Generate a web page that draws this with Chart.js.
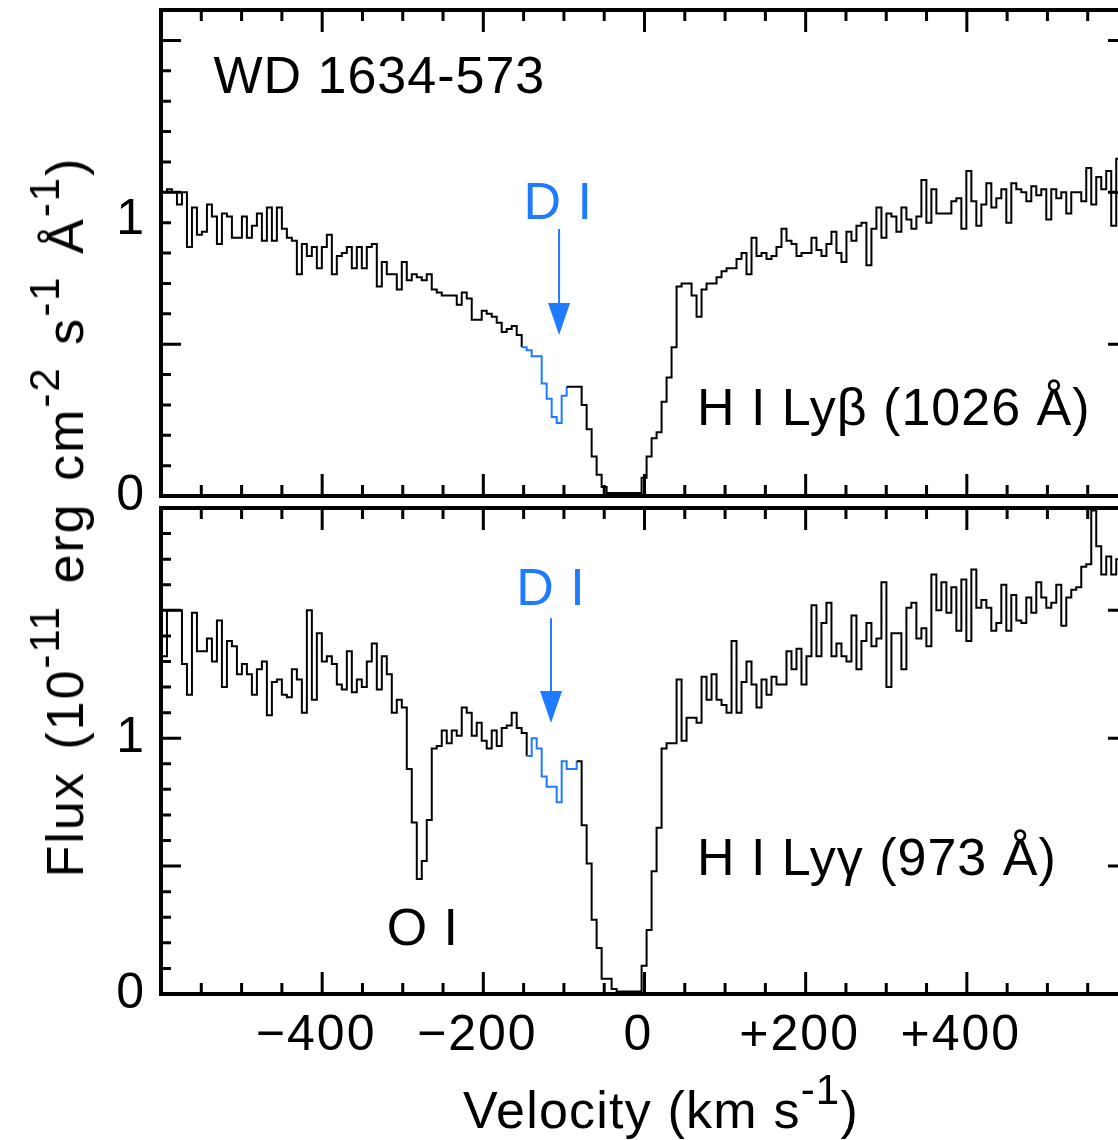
<!DOCTYPE html>
<html>
<head>
<meta charset="utf-8">
<script src="https://cdn.jsdelivr.net/npm/chart.js@4.4.1/dist/chart.umd.min.js"></script>
<style>
  html, body { margin: 0; padding: 0; background: #fff; overflow: hidden; }
  #wrap { position: relative; width: 1118px; height: 1140px; overflow: hidden; background: #fff; }
  canvas { position: absolute; left: 0; }
  #cTop { top: 0; z-index: 2; }
  #cBot { top: 500px; z-index: 1; }
  .lbl { position: absolute; font-family: "Liberation Sans", Arial, sans-serif; font-size: 52px;
         line-height: 52px; color: #000; white-space: nowrap; z-index: 3; }
  .lbl sup { font-size: 42px; vertical-align: baseline; position: relative; top: -24px; }
  #xTitle { left: 661px; top: 1084px; transform: translateX(-50%); letter-spacing: 1.2px; }
  #yTitle { left: 67px; top: 517px; transform: translate(-50%, -50%) rotate(-90deg);
            letter-spacing: 2px; word-spacing: 5px; }
</style>
</head>
<body>
<div id="wrap">
  <canvas id="cTop" width="1140" height="530" style="width:1140px;height:530px"></canvas>
  <canvas id="cBot" width="1140" height="640" style="width:1140px;height:640px"></canvas>
  <div class="lbl" id="yTitle">Flux (10<sup>-11</sup> erg cm<sup>-2</sup> s<sup>-1</sup> Å<sup>-1</sup>)</div>
  <div class="lbl" id="xTitle">Velocity (km s<sup>-1</sup>)</div>
</div>
<script>
// spectral bins: left edge of first bin and bin width, km/s
const V_START = -598.8;
const V_STEP = 6.2;

// H I Ly-beta (1026 A), flux in 1e-11 erg cm-2 s-1 A-1
const lybFlux = [
  1.00, 1.01, 1.00, 0.96, 1.00, 0.82, 0.95, 0.86, 0.87, 0.96,
  0.92, 0.83, 0.93, 0.92, 0.85, 0.85, 0.92, 0.85, 0.89, 0.93,
  0.84, 0.95, 0.84, 0.95, 0.88, 0.85, 0.84, 0.73, 0.83, 0.79,
  0.82, 0.75, 0.82, 0.86, 0.73, 0.79, 0.80, 0.82, 0.75, 0.82,
  0.75, 0.82, 0.83, 0.69, 0.77, 0.73, 0.73, 0.68, 0.77, 0.71,
  0.73, 0.72, 0.71, 0.73, 0.68, 0.67, 0.66, 0.66, 0.66, 0.63,
  0.67, 0.65, 0.58, 0.58, 0.61, 0.60, 0.59, 0.57, 0.54, 0.55,
  0.56, 0.53, 0.49, 0.48, 0.46, 0.46, 0.37, 0.32, 0.26, 0.24,
  0.33, 0.36, 0.36, 0.36, 0.30, 0.22, 0.13, 0.07, 0.03, 0.01,
  0.01, 0.01, 0.01, 0.01, 0.01, 0.01, 0.06, 0.13, 0.19, 0.21,
  0.31, 0.39, 0.49, 0.69, 0.70, 0.70, 0.66, 0.59, 0.68, 0.70,
  0.70, 0.72, 0.74, 0.75, 0.75, 0.78, 0.80, 0.73, 0.85, 0.79,
  0.80, 0.78, 0.79, 0.82, 0.88, 0.84, 0.83, 0.79, 0.80, 0.80,
  0.85, 0.81, 0.79, 0.83, 0.87, 0.80, 0.77, 0.87, 0.84, 0.89,
  0.90, 0.76, 0.88, 0.95, 0.85, 0.93, 0.92, 0.87, 0.95, 0.91,
  0.88, 0.92, 1.04, 0.90, 1.01, 0.93, 0.93, 0.93, 0.97, 0.98,
  0.88, 1.07, 0.97, 0.89, 0.96, 1.03, 0.95, 0.98, 1.01, 0.90,
  1.03, 1.01, 1.00, 0.97, 1.02, 0.99, 1.01, 0.91, 1.01, 0.98,
  1.00, 0.93, 1.00, 1.00, 0.97, 1.08, 0.96, 1.05, 1.01, 1.07,
  0.89, 1.11, 1.02
];

// H I Ly-gamma (973 A)
const lygFlux = [
  1.32, 1.50, 1.50, 1.50, 1.29, 1.17, 1.49, 1.34, 1.34, 1.39,
  1.30, 1.46, 1.20, 1.38, 1.36, 1.25, 1.29, 1.25, 1.17, 1.27,
  1.30, 1.09, 1.22, 1.23, 1.17, 1.16, 1.27, 1.23, 1.10, 1.50,
  1.15, 1.41, 1.30, 1.32, 1.29, 1.21, 1.19, 1.34, 1.18, 1.23,
  1.20, 1.30, 1.37, 1.19, 1.32, 1.25, 1.10, 1.15, 1.12, 0.88,
  0.67, 0.45, 0.52, 0.68, 0.96, 0.97, 1.03, 0.98, 1.03, 1.01,
  1.12, 1.10, 1.01, 1.06, 0.99, 0.96, 1.03, 0.97, 1.04, 1.05,
  1.10, 1.04, 1.02, 0.93, 1.00, 0.96, 0.85, 0.81, 0.81, 0.75,
  0.91, 0.88, 0.88, 0.91, 0.66, 0.51, 0.29, 0.18, 0.06, 0.06,
  0.02, 0.01, 0.01, 0.01, 0.01, 0.01, 0.11, 0.25, 0.48, 0.65,
  0.96, 0.98, 0.98, 1.23, 0.99, 1.08, 1.08, 1.06, 1.24, 1.15,
  1.25, 1.15, 1.13, 1.10, 1.38, 1.10, 1.22, 1.30, 1.21, 1.12,
  1.23, 1.17, 1.24, 1.21, 1.21, 1.34, 1.27, 1.35, 1.21, 1.32,
  1.52, 1.32, 1.45, 1.53, 1.32, 1.37, 1.32, 1.30, 1.48, 1.27,
  1.38, 1.45, 1.36, 1.39, 1.61, 1.20, 1.41, 1.41, 1.27, 1.51,
  1.53, 1.39, 1.43, 1.36, 1.64, 1.50, 1.61, 1.49, 1.59, 1.42,
  1.62, 1.38, 1.66, 1.51, 1.54, 1.51, 1.42, 1.45, 1.60, 1.42,
  1.56, 1.46, 1.45, 1.55, 1.49, 1.61, 1.55, 1.51, 1.53, 1.60,
  1.44, 1.55, 1.58, 1.59, 1.67, 1.68, 1.89, 1.75, 1.64, 1.71,
  1.64, 1.70, 1.68
];

// bins drawn in blue (D I absorption), first and last index
const lybDI = [72, 80];
const lygDI = [73, 82];

const xTickText = { "-400": "\u2212400", "-200": "\u2212200", "0": "0", "200": "+200", "400": "+400" };
const yTickText = { "0": "0", "1": "1" };

const BLACK = "#000000";
const BLUE = "#1E7BFF";
const FONT = '"Liberation Sans", Arial, sans-serif';

Chart.defaults.font.family = FONT;
Chart.defaults.color = BLACK;

function spectrum(flux, blue) {
  return {
    data: flux.map((f, i) => ({ x: V_START + i * V_STEP, y: f })),
    stepped: "before",
    borderColor: BLACK,
    borderWidth: 2,
    pointRadius: 0,
    fill: false,
    segment: {
      borderColor: c => (c.p0DataIndex >= blue[0] && c.p0DataIndex <= blue[1]) ? BLUE : BLACK
    }
  };
}

// no extra room for the end labels, chart area is set by hand
function noPad(s) {
  s.paddingTop = 0; s.paddingBottom = 0; s.paddingLeft = 0; s.paddingRight = 0;
}

// slightly wider glyph spacing, like the original bitmap font
const spacing = {
  id: "spacing",
  beforeDraw(chart) { chart.ctx.letterSpacing = "2px"; }
};

// frame + inward ticks on all four sides
const frameTicks = {
  id: "frameTicks",
  beforeDatasetsDraw(chart) {
    const { ctx, chartArea: a } = chart;
    const xs = chart.scales.x, ys = chart.scales.y;
    ctx.save();
    ctx.strokeStyle = BLACK;
    ctx.lineWidth = 3;
    ctx.beginPath();
    for (let v = -550; v <= 550; v += 50) {
      const px = xs.getPixelForValue(v);
      const len = v % 200 === 0 ? 22 : 11;
      ctx.moveTo(px, a.bottom); ctx.lineTo(px, a.bottom - len);
      ctx.moveTo(px, a.top); ctx.lineTo(px, a.top + len);
    }
    for (let k = 1; k / 10 < ys.max; k++) {
      const py = ys.getPixelForValue(k / 10);
      const len = k % 5 === 0 ? 20 : 10;
      ctx.moveTo(a.left, py); ctx.lineTo(a.left + len, py);
      ctx.moveTo(a.right, py); ctx.lineTo(a.right - len, py);
    }
    ctx.stroke();
    ctx.lineWidth = 4;
    ctx.strokeRect(a.left, a.top, a.right - a.left, a.bottom - a.top);
    ctx.restore();
  }
};

// labels and arrows placed in data coordinates
function notes(texts, arrows) {
  return {
    id: "notes",
    afterDatasetsDraw(chart) {
      const { ctx } = chart;
      const xs = chart.scales.x, ys = chart.scales.y;
      ctx.save();
      ctx.font = "52px " + FONT;
      ctx.letterSpacing = "1px";
      ctx.textBaseline = "alphabetic";
      texts.forEach(t => {
        ctx.fillStyle = t.color;
        ctx.textAlign = t.align;
        ctx.fillText(t.text, xs.getPixelForValue(t.x), ys.getPixelForValue(t.y));
      });
      arrows.forEach(ar => {
        const px = xs.getPixelForValue(ar.x);
        const y0 = ys.getPixelForValue(ar.from);
        const y1 = ys.getPixelForValue(ar.to);
        ctx.strokeStyle = ar.color;
        ctx.fillStyle = ar.color;
        ctx.lineWidth = 2;
        ctx.beginPath();
        ctx.moveTo(px, y0);
        ctx.lineTo(px, y1 - 30);
        ctx.stroke();
        ctx.beginPath();
        ctx.moveTo(px - 11, y1 - 32);
        ctx.lineTo(px + 11, y1 - 32);
        ctx.lineTo(px, y1);
        ctx.closePath();
        ctx.fill();
      });
      ctx.restore();
    }
  };
}

const tickFont = { family: FONT, size: 50 };

// ---- top panel: Ly beta ----
// canvas runs past the panel so the "0" label is not cut off
new Chart(document.getElementById("cTop"), {
  type: "line",
  data: { datasets: [spectrum(lybFlux, lybDI)] },
  options: {
    responsive: false,
    animation: false,
    events: [],
    layout: { padding: { top: 10, right: 12, bottom: 34, left: 0 } },
    plugins: { legend: { display: false }, tooltip: { enabled: false } },
    scales: {
      x: { type: "linear", min: -600, max: 600, display: false },
      y: { min: 0, max: 1.6, display: false },
      // label-only axis: the "1" label sits a little below the 1.0 tick in the original
      yl: {
        position: "left", min: 0, max: 1.761,
        grid: { display: false, drawTicks: false },
        border: { display: false },
        ticks: { font: tickFont, color: BLACK, padding: 15, callback: v => yTickText[v] ?? "" },
        afterBuildTicks: s => { s.ticks = [{ value: 0 }, { value: 1 }]; },
        afterFit: s => { s.width = 161; noPad(s); }
      }
    }
  },
  plugins: [spacing, frameTicks, notes(
    [
      { text: "WD 1634-573", x: -535, y: 1.327, color: BLACK, align: "left" },
      { text: "D I", x: -107, y: 0.912, color: BLUE, align: "center" },
      { text: "H I Ly\u03B2 (1026 \u00C5)", x: 65, y: 0.234, color: BLACK, align: "left" }
    ],
    [{ x: -106, from: 0.879, to: 0.530, color: BLUE }]
  )]
});

// ---- bottom panel: Ly gamma ----
new Chart(document.getElementById("cBot"), {
  type: "line",
  data: { datasets: [spectrum(lygFlux, lygDI)] },
  options: {
    responsive: false,
    animation: false,
    events: [],
    layout: { padding: { top: 8, right: 12, bottom: 0, left: 0 } },
    plugins: { legend: { display: false }, tooltip: { enabled: false } },
    scales: {
      x: {
        type: "linear", min: -600, max: 600,
        grid: { display: false, drawTicks: false },
        border: { display: false },
        ticks: { font: tickFont, color: BLACK, padding: 12, autoSkip: false, maxRotation: 0,
                 labelOffset: -6, callback: v => xTickText[v] ?? "" },
        afterBuildTicks: s => { s.ticks = Object.keys(xTickText).map(k => ({ value: Number(k) })); },
        afterFit: s => { s.height = 146; noPad(s); }
      },
      y: {
        min: 0, max: 1.9,
        grid: { display: false, drawTicks: false },
        border: { display: false },
        ticks: { font: tickFont, color: BLACK, padding: 15, callback: v => yTickText[v] ?? "" },
        afterBuildTicks: s => { s.ticks = [{ value: 0 }, { value: 1 }]; },
        afterFit: s => { s.width = 161; noPad(s); }
      }
    }
  },
  plugins: [spacing, frameTicks, notes(
    [
      { text: "D I", x: -116, y: 1.52, color: BLUE, align: "center" },
      { text: "H I Ly\u03B3 (973 \u00C5)", x: 65, y: 0.465, color: BLACK, align: "left" },
      { text: "O I", x: -320, y: 0.191, color: BLACK, align: "left" }
    ],
    [{ x: -116, from: 1.469, to: 1.059, color: BLUE }]
  )]
});
</script>
</body>
</html>
